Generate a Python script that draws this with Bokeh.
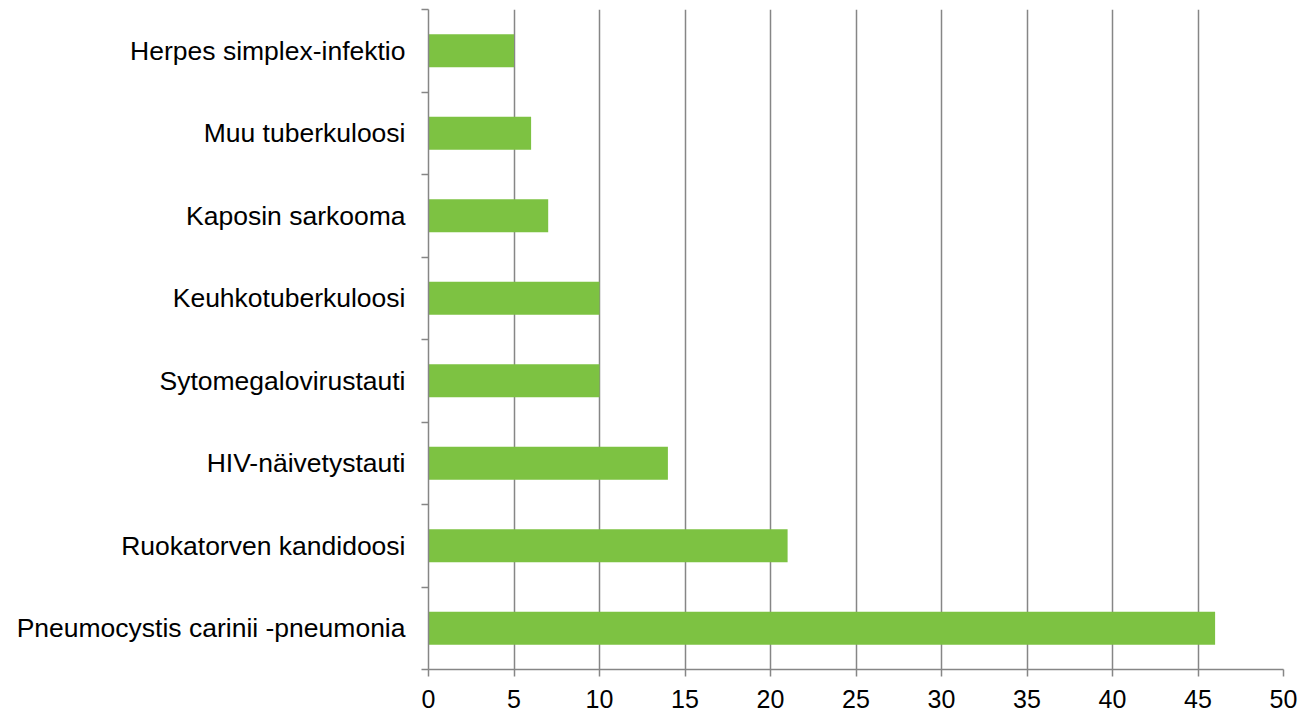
from bokeh.plotting import figure
from bokeh.models import Range1d, FixedTicker, ColumnDataSource
from bokeh.embed import file_html
from bokeh.resources import INLINE

# data, bottom to top
categories = ["Pneumocystis carinii -pneumonia", "Ruokatorven kandidoosi", "HIV-näivetystauti",
              "Sytomegalovirustauti", "Keuhkotuberkuloosi", "Kaposin sarkooma",
              "Muu tuberkuloosi", "Herpes simplex-infektio"]
values = [46, 21, 14, 10, 10, 7, 6, 5]
x_ticks = list(range(0, 51, 5))

n = len(categories)
centers = [i + 0.5 for i in range(n)]
bounds = list(range(n + 1))

src = ColumnDataSource(dict(y=centers, v=values))

p = figure(width=1301, height=714, output_backend="svg", toolbar_location=None,
           x_range=Range1d(0, 50), y_range=Range1d(0, n),
           frame_width=855, frame_height=660,
           min_border_left=428, min_border_right=18, min_border_top=9, min_border_bottom=45)
p.outline_line_color = None
p.background_fill_color = "white"
p.border_fill_color = "white"

p.hbar(y="y", right="v", left=0, height=0.4, source=src, color="#7DC242", line_color=None)

grey = "#868686"
FONT = "Liberation Sans"

# x axis
p.xaxis.ticker = FixedTicker(ticks=x_ticks)
p.xaxis.axis_line_color = grey
p.xaxis.axis_line_width = 1.5
p.xaxis.major_tick_line_color = grey
p.xaxis.major_tick_line_width = 1.5
p.xaxis.major_tick_out = 7
p.xaxis.major_tick_in = 0
p.xaxis.minor_tick_line_color = None
p.xaxis.major_label_text_font = FONT
p.xaxis.major_label_text_font_size = "25px"
p.xaxis.major_label_text_color = "black"
p.xaxis.major_label_standoff = 13

# y axis: labels at centers, tick marks at category boundaries (minor ticks)
p.yaxis.ticker = FixedTicker(ticks=centers, minor_ticks=bounds)
p.yaxis.major_label_overrides = {c: lab for c, lab in zip(centers, categories)}
p.yaxis.axis_line_color = grey
p.yaxis.axis_line_width = 1.5
p.yaxis.major_tick_line_color = None
p.yaxis.major_tick_out = 0
p.yaxis.major_tick_in = 0
p.yaxis.minor_tick_line_color = grey
p.yaxis.minor_tick_line_width = 1.5
p.yaxis.minor_tick_out = 7
p.yaxis.minor_tick_in = 0
p.yaxis.major_label_text_font = FONT
p.yaxis.major_label_text_font_size = "26.5px"
p.yaxis.major_label_text_color = "black"
p.yaxis.major_label_standoff = 16

# grid
p.xgrid.ticker = FixedTicker(ticks=x_ticks[1:])
p.xgrid.grid_line_color = grey
p.xgrid.grid_line_width = 1.5
p.ygrid.grid_line_color = None

open("out.html", "w").write(file_html(p, INLINE))
